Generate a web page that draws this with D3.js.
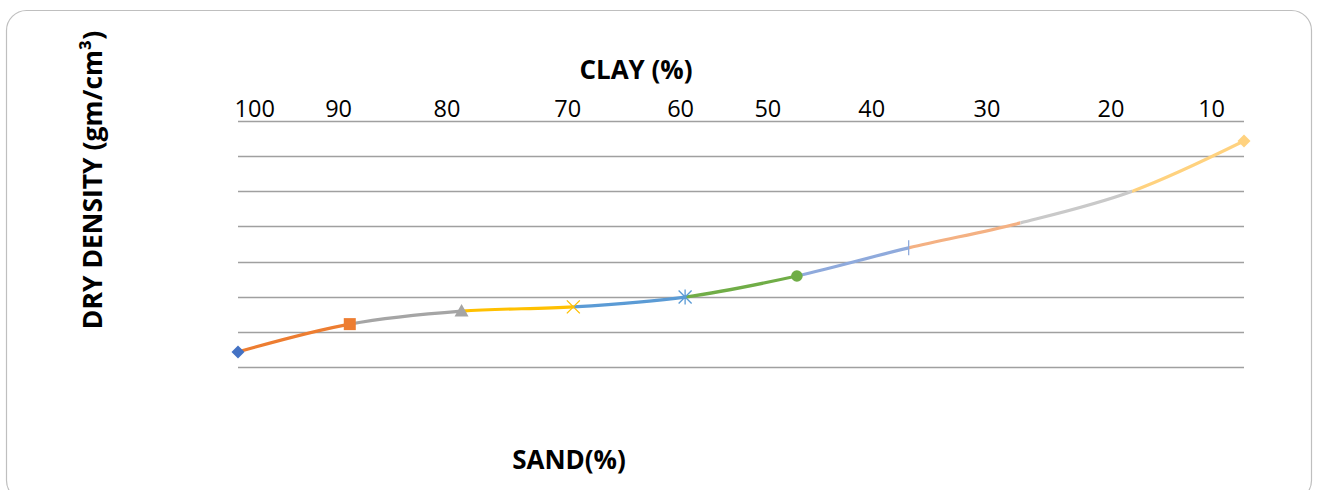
<!DOCTYPE html>
<html>
<head>
<meta charset="utf-8">
<script src="https://cdn.jsdelivr.net/npm/d3@7"></script>
<style>
  html, body { margin: 0; padding: 0; background: #ffffff; }
  svg { display: block; }
  text { font-family: "Open Sans", "Noto Sans", sans-serif; fill: #000; }
</style>
</head>
<body>
<svg id="chart" width="1319" height="490"></svg>
<script>
// Sample mixes, from pure sand to mostly clay
const sandPct = [100, 90, 80, 70, 60, 50, 40, 30, 20, 10];
const dryDensity = [1.343, 1.422, 1.459, 1.471, 1.499, 1.559, 1.639, 1.710, 1.800, 1.943];

// Colour and marker for each sample (a segment takes the colour of its end sample)
const seriesColors = ["#4472C4", "#ED7D31", "#A5A5A5", "#FFC000", "#5B9BD5",
                      "#70AD47", "#8FAADC", "#F4B183", "#C9C9C9", "#FFD27F"];
const seriesMarkers = ["diamond", "square", "triangle", "x", "asterisk",
                       "circle", "plus", "none", "none", "diamond"];

// Clay labels along the top and where they sit (in sample-index units)
const clayLabels = ["100", "90", "80", "70", "60", "50", "40", "30", "20", "10"];
const clayLabelAt = [0.15, 0.9, 1.87, 2.95, 3.96, 4.74, 5.67, 6.70, 7.81, 8.71];

// Horizontal guide lines
const densityGrid = [1.3, 1.4, 1.5, 1.6, 1.7, 1.8, 1.9, 2.0];

const svg = d3.select("#chart");

// Chart frame
svg.append("rect")
  .attr("x", 6.5).attr("y", 10.5)
  .attr("width", 1305).attr("height", 490)
  .attr("rx", 20).attr("ry", 20)
  .attr("fill", "#fff").attr("stroke", "#BFBFBF").attr("stroke-width", 1.2);

const x = d3.scaleLinear().domain([0, sandPct.length - 1]).range([238, 1244]);
const y = d3.scaleLinear().domain([1.3, 2.0]).range([367, 121]);

// Gridlines
svg.append("g").selectAll("line")
  .data(densityGrid)
  .join("line")
  .attr("x1", x(0)).attr("x2", x(sandPct.length - 1))
  .attr("y1", d => Math.round(y(d)) + 0.5).attr("y2", d => Math.round(y(d)) + 0.5)
  .attr("stroke", "#A0A0A0").attr("stroke-width", 1.3);

// Clay labels along the top
svg.append("g").selectAll("text")
  .data(clayLabels)
  .join("text")
  .attr("x", (d, i) => x(clayLabelAt[i]))
  .attr("y", 117)
  .attr("text-anchor", "middle")
  .attr("font-size", 23.5)
  .text(d => d);

// Axis titles
svg.append("text")
  .attr("x", 636).attr("y", 79)
  .attr("text-anchor", "middle")
  .attr("font-size", 26).attr("font-weight", 700)
  .text("CLAY (%)");

svg.append("text")
  .attr("x", 569).attr("y", 469)
  .attr("text-anchor", "middle")
  .attr("font-size", 26).attr("font-weight", 700)
  .text("SAND(%)");

svg.append("text")
  .attr("transform", "translate(102,180) rotate(-90)")
  .attr("text-anchor", "middle")
  .attr("font-size", 26.5).attr("font-weight", 700)
  .text("DRY DENSITY (gm/cm³)");

// Smoothed curve through all samples, coloured piece by piece
const pts = sandPct.map((s, i) => [x(i), y(dryDensity[i])]);
const line = d3.line().curve(d3.curveCardinal.tension(0));
const fullPath = line(pts);

const defs = svg.append("defs");
const curveG = svg.append("g");
for (let i = 1; i < pts.length; i++) {
  const id = "seg" + i;
  defs.append("clipPath").attr("id", id)
    .append("rect")
    .attr("x", pts[i - 1][0]).attr("y", 0)
    .attr("width", pts[i][0] - pts[i - 1][0]).attr("height", 490);
  curveG.append("path")
    .attr("d", fullPath)
    .attr("clip-path", `url(#${id})`)
    .attr("fill", "none")
    .attr("stroke", seriesColors[i])
    .attr("stroke-width", 3.2)
    .attr("stroke-linecap", "butt");
}

// Markers
const markerG = svg.append("g");
pts.forEach((p, i) => {
  const kind = seriesMarkers[i];
  const c = seriesColors[i];
  const g = markerG.append("g").attr("transform", `translate(${p[0]},${p[1]})`);
  if (kind === "diamond") {
    g.append("path").attr("d", "M0,-6.5L6.5,0L0,6.5L-6.5,0Z").attr("fill", c);
  } else if (kind === "square") {
    g.append("rect").attr("x", -6).attr("y", -6).attr("width", 12).attr("height", 12).attr("fill", c);
  } else if (kind === "triangle") {
    g.append("path").attr("d", "M0,-7L7,5.5L-7,5.5Z").attr("fill", c);
  } else if (kind === "circle") {
    g.append("circle").attr("r", 5.8).attr("fill", c);
  } else if (kind === "x") {
    g.append("path").attr("d", "M-6.5,-6.5L6.5,6.5M6.5,-6.5L-6.5,6.5")
      .attr("stroke", c).attr("stroke-width", 1.3).attr("fill", "none");
  } else if (kind === "asterisk") {
    g.append("path").attr("d", "M-6.5,-6.5L6.5,6.5M6.5,-6.5L-6.5,6.5M0,-7.5L0,7.5")
      .attr("stroke", c).attr("stroke-width", 1.3).attr("fill", "none");
  } else if (kind === "plus") {
    g.append("path").attr("d", "M0,-7.5L0,7.5")
      .attr("stroke", c).attr("stroke-width", 1.3).attr("fill", "none");
  }
});
</script>
</body>
</html>
